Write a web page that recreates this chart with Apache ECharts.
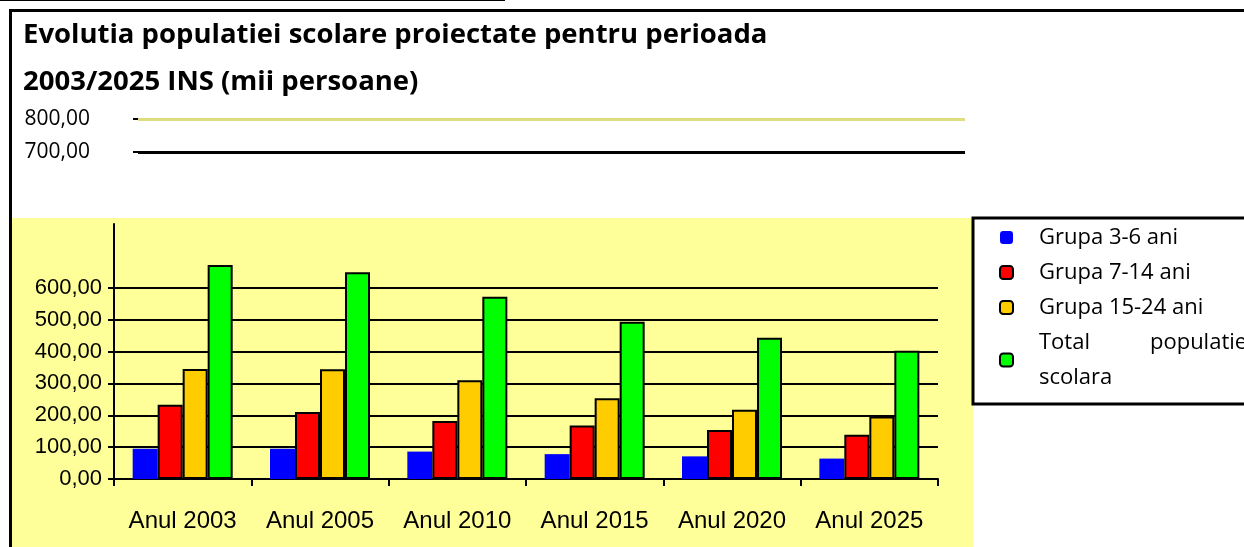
<!DOCTYPE html>
<html>
<head>
<meta charset="utf-8">
<script src="https://cdn.jsdelivr.net/npm/echarts@6/dist/echarts.min.js"></script>
<style>
  html, body { margin: 0; padding: 0; background: #fff; }
  #chart { width: 1244px; height: 547px; }
</style>
</head>
<body>
<div id="chart"></div>
<script>
// date (mii persoane)
const categories = ['Anul 2003', 'Anul 2005', 'Anul 2010', 'Anul 2015', 'Anul 2020', 'Anul 2025'];
const grupa36 = [95, 95, 86, 78, 71, 64];
const grupa714 = [233, 210, 182, 168, 154, 139];
const grupa1524 = [345, 344, 310, 253, 217, 196];
const totalScolara = [671, 649, 572, 493, 443, 402];
const seriesNames = ['Grupa 3-6 ani', 'Grupa 7-14 ani', 'Grupa 15-24 ani', 'Total populatie scolara'];
const lowerTicks = [0, 100, 200, 300, 400, 500, 600];
const upperTicks = [700, 800];

const fmt = v => v.toFixed(2).replace('.', ',');

const chart = echarts.init(document.getElementById('chart'));

const barSeries = (name, data, color, border) => ({
  name: name,
  type: 'bar',
  data: data,
  barWidth: 25,
  barGap: '0%',
  itemStyle: {
    color: color,
    borderColor: border ? '#000' : color,
    borderWidth: border ? 2 : 0
  }
});

const legendFont = { fontFamily: 'Open Sans', fontSize: 22, lineHeight: 35, color: '#000' };

const option = {
  backgroundColor: '#fff',
  animation: false,
  title: {
    text: 'Evolutia populatiei scolare proiectate pentru perioada\n2003/2025 INS (mii persoane)',
    left: 23,
    top: 12,
    padding: 0,
    textStyle: {
      fontFamily: 'Open Sans',
      fontWeight: 'bold',
      fontSize: 27.5,
      lineHeight: 47,
      color: '#000'
    }
  },
  graphic: [
    // fundal galben al zonei de desenare
    { type: 'rect', z: -10, shape: { x: 10, y: 218, width: 963, height: 340 }, style: { fill: '#ffff99' } },
    // chenarul legendei
    { type: 'rect', z: -5, shape: { x: 973, y: 218, width: 300, height: 186 }, style: { fill: '#fff', stroke: '#000', lineWidth: 3 } },
    // rama
    { type: 'line', z: -4, shape: { x1: 9, y1: 10.5, x2: 1244, y2: 10.5 }, style: { stroke: '#000', lineWidth: 3 } },
    { type: 'line', z: -4, shape: { x1: 10.5, y1: 9, x2: 10.5, y2: 547 }, style: { stroke: '#000', lineWidth: 3 } },
    { type: 'line', z: -4, shape: { x1: 0, y1: 0.5, x2: 505, y2: 0.5 }, style: { stroke: '#000', lineWidth: 1 } }
  ],
  legend: {
    data: seriesNames,
    orient: 'vertical',
    left: 999,
    top: 220,
    itemGap: 0,
    itemWidth: 13,
    itemHeight: 13,
    padding: 0,
    selectedMode: false,
    formatter: name => name === 'Total populatie scolara'
      ? '{t|Total}{s|}{t|populatie}\n{t|scolara}'
      : name,
    textStyle: Object.assign({
      padding: [0, 0, 0, 21],
      rich: {
        t: legendFont,
        s: { width: 60, lineHeight: 35 }
      }
    }, legendFont)
  },
  grid: [
    { left: 114, right: 306, top: 224, bottom: 68 },
    { left: 138, right: 279, top: 119, bottom: 395 }
  ],
  xAxis: [
    {
      type: 'category',
      gridIndex: 0,
      data: categories,
      axisLine: { lineStyle: { color: '#000', width: 2 } },
      axisTick: { show: true, interval: 0, length: 7, lineStyle: { color: '#000', width: 2 } },
      axisLabel: { interval: 0, margin: 30, color: '#000', fontFamily: 'Liberation Sans', fontSize: 24 }
    },
    { type: 'value', gridIndex: 1, min: 0, max: 1, show: false }
  ],
  yAxis: [
    {
      type: 'value',
      gridIndex: 0,
      min: 0,
      max: 800,
      interval: 100,
      axisLine: { show: true, lineStyle: { color: '#000', width: 2 } },
      axisTick: { show: true, length: 6, customValues: lowerTicks, lineStyle: { color: '#000', width: 2 } },
      axisLabel: {
        customValues: lowerTicks,
        formatter: fmt,
        margin: 12,
        color: '#000',
        fontFamily: 'Liberation Sans',
        fontSize: 22
      },
      splitLine: {
        show: true,
        lineStyle: {
          color: ['#000', '#000', '#000', '#000', '#000', '#000', '#000', 'rgba(0,0,0,0)', 'rgba(0,0,0,0)'],
          width: 2
        }
      }
    },
    {
      type: 'value',
      gridIndex: 1,
      min: 700,
      max: 800,
      interval: 100,
      axisLine: { show: false },
      axisTick: { show: true, length: 5, customValues: upperTicks, lineStyle: { color: '#000', width: 2 } },
      axisLabel: {
        customValues: upperTicks,
        formatter: fmt,
        margin: 48,
        color: '#000',
        fontFamily: 'Open Sans',
        fontSize: 21
      },
      splitLine: {
        show: true,
        lineStyle: { color: ['#000', '#dede80'], width: 3 }
      }
    }
  ],
  series: [
    barSeries(seriesNames[0], grupa36, '#0000ff', false),
    barSeries(seriesNames[1], grupa714, '#ff0000', true),
    barSeries(seriesNames[2], grupa1524, '#ffcc00', true),
    barSeries(seriesNames[3], totalScolara, '#00ff00', true)
  ]
};

chart.setOption(option);
</script>
</body>
</html>
